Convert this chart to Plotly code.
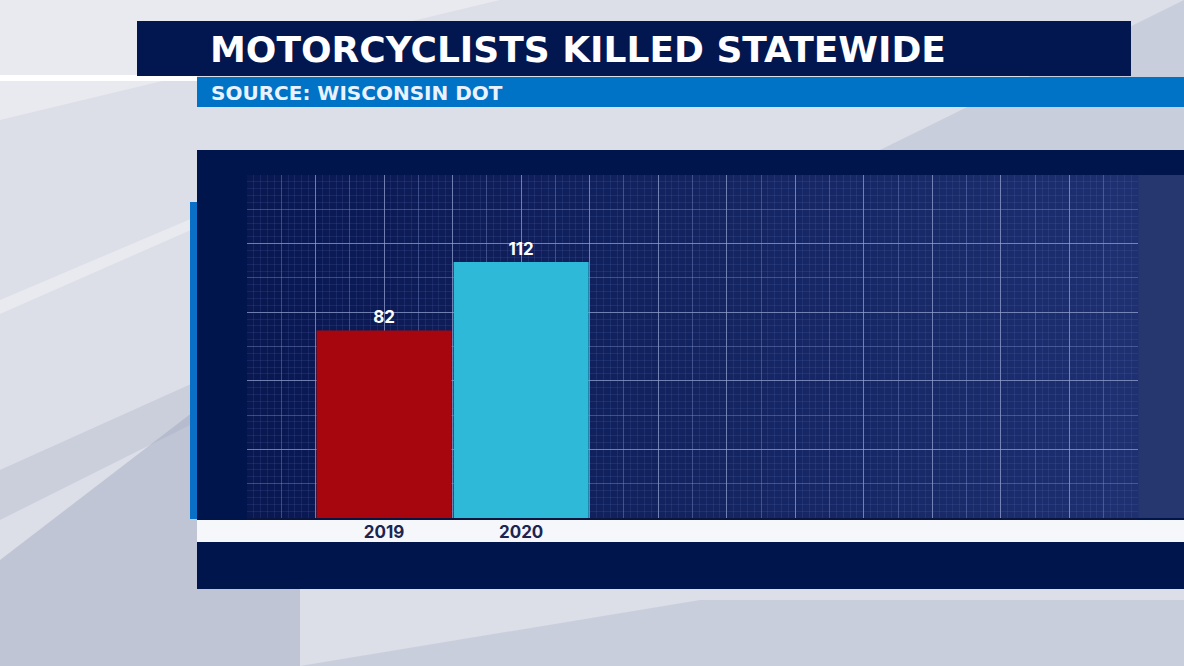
import plotly.graph_objects as go

# ---- data ----
years = ["2019", "2020"]
killed = [82, 112]
bar_colors = ["#a8060e", "#2db9d7"]
title_text = "MOTORCYCLISTS KILLED STATEWIDE"
source_text = "SOURCE: WISCONSIN DOT"

W, H = 1184, 666
L, R, T, B = 247, 1138, 175, 518   # plot area in pixels

def px(x):
    return (x - L) / (R - L)
def py(y):
    return (B - y) / (B - T)

FONT = "Inter"
HEAD = "DejaVu Sans"

fig = go.Figure()
fig.add_trace(go.Bar(
    x=years, y=killed,
    marker=dict(color=bar_colors, line=dict(width=0)),
    text=[str(v) for v in killed],
    textposition="outside",
    textfont=dict(family=FONT, size=17, color="white", weight=700),
    cliponaxis=False,
    hoverinfo="skip",
))
# empty traces only to activate the overlay grid axes
fig.add_trace(go.Scatter(x=[], y=[], xaxis="x2", yaxis="y2", hoverinfo="skip", showlegend=False))
fig.add_trace(go.Scatter(x=[], y=[], xaxis="x3", yaxis="y2", hoverinfo="skip", showlegend=False))

shapes = []
def rect(x0, y0, x1, y1, color, layer="below"):
    shapes.append(dict(type="rect", xref="paper", yref="paper",
                       x0=px(x0), x1=px(x1), y0=py(y1), y1=py(y0),
                       fillcolor=color, line=dict(width=0), layer=layer))
def poly(points, color):
    d = "M " + " L ".join(f"{px(a)} {py(b)}" for a, b in points) + " Z"
    shapes.append(dict(type="path", xref="paper", yref="paper", layer="below",
                       path=d, fillcolor=color, line=dict(width=0)))

# background accents
poly([(0, 560), (300, 330), (300, 666), (0, 666)], "rgba(140,150,178,0.35)")
poly([(0, 470), (200, 380), (200, 420), (0, 520)], "rgba(150,160,185,0.25)")
poly([(0, 300), (200, 215), (200, 226), (0, 314)], "rgba(255,255,255,0.35)")
poly([(300, 666), (700, 600), (1184, 600), (1184, 666)], "rgba(160,170,195,0.3)")
poly([(880, 150), (1184, 0), (1184, 150)], "rgba(160,170,195,0.3)")
poly([(0, 0), (500, 0), (0, 120)], "rgba(255,255,255,0.35)")

rect(0, 75, 197, 81, "#ffffff")
rect(137, 21, 1131, 76, "#02164f")
rect(197, 77, 1184, 107, "#0073c7")
rect(197, 150, 1184, 589, "#00154b")
rect(190, 202, 197, 519, "#0a6fc7")
rect(1138, 175, 1184, 518, "#26366e")

# gradient plot background (style only)
n = 24
c0 = (10, 24, 82)
c1 = (30, 48, 112)
for i in range(n):
    t = i / (n - 1)
    c = tuple(int(c0[k] + (c1[k] - c0[k]) * t) for k in range(3))
    x0 = L + (R - L) * i / n
    x1 = L + (R - L) * (i + 1) / n + 0.5
    rect(x0, T, x1, B, f"rgb{c}")

rect(197, 520, 1184, 542, "#f6f7fa")

bright = "rgba(175,185,225,0.62)"
medium = "rgba(140,155,210,0.32)"
fine = "rgba(110,130,200,0.15)"

fig.update_layout(
    width=W, height=H, autosize=False,
    margin=dict(l=L, r=W - R, t=T, b=H - B, pad=0),
    paper_bgcolor="#dcdfe8",
    plot_bgcolor="rgba(0,0,0,0)",
    showlegend=False,
    bargap=0.015,
    shapes=shapes,
    xaxis=dict(type="category", range=[-1, 5.5], showgrid=False, zeroline=False,
               showline=True, linecolor="#0a1540", linewidth=2,
               ticks="", ticklabelstandoff=-2,
               tickfont=dict(family=FONT, size=17, color="#1b2552", weight=700),
               fixedrange=True),
    xaxis2=dict(overlaying="x", anchor="y2", range=[-1, 5.5], tickmode="linear", tick0=-1, dtick=0.5,
                showgrid=True, gridcolor=bright, gridwidth=1.3,
                minor=dict(tickmode="linear", tick0=-1, dtick=0.25, showgrid=True, gridcolor=medium, gridwidth=1),
                showticklabels=False, zeroline=False, showline=False, ticks="", fixedrange=True),
    xaxis3=dict(overlaying="x", anchor="y2", range=[-1, 5.5], tickmode="linear", tick0=-1, dtick=0.05,
                showgrid=True, gridcolor=fine, gridwidth=1,
                showticklabels=False, zeroline=False, showline=False, ticks="", fixedrange=True),
    yaxis=dict(range=[0, 150], tickmode="linear", tick0=0, dtick=30,
               showgrid=True, gridcolor=bright, gridwidth=1.3,
               minor=dict(tickmode="linear", tick0=0, dtick=15, showgrid=True, gridcolor=medium, gridwidth=1),
               showticklabels=False, zeroline=False, showline=False, ticks="", fixedrange=True),
    yaxis2=dict(overlaying="y", anchor="x2", range=[0, 150], tickmode="linear", tick0=0, dtick=3,
                showgrid=True, gridcolor=fine, gridwidth=1,
                showticklabels=False, zeroline=False, showline=False, ticks="", fixedrange=True),
    annotations=[
        dict(text=title_text, xref="paper", yref="paper", x=px(208), y=py(49),
             xanchor="left", yanchor="middle", showarrow=False,
             font=dict(family=HEAD, size=36, color="white", weight=700)),
        dict(text=source_text, xref="paper", yref="paper", x=px(209), y=py(92.5),
             xanchor="left", yanchor="middle", showarrow=False,
             font=dict(family=HEAD, size=20, color="#eaf2ff", weight=700)),
    ],
)

fig.write_html("out.html", config={"displayModeBar": False},
               post_script="document.body.style.margin='0';")
